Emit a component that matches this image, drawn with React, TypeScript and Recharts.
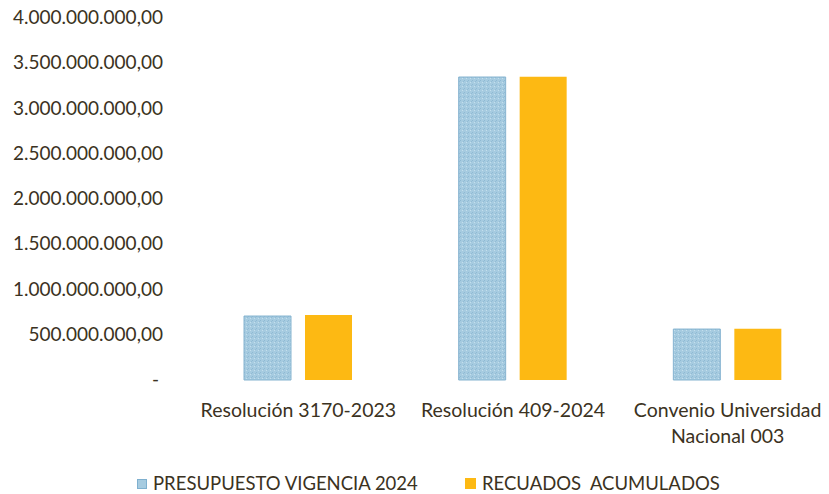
import { BarChart, Bar, XAxis, YAxis, Legend, Text } from 'recharts';

const categories = ['Resolución 3170-2023', 'Resolución 409-2024', 'Convenio Universidad Nacional 003'];
const presupuesto = [707000000, 3348000000, 563000000];
const recaudados = [718000000, 3350000000, 565000000];
const yTicks = [0, 500000000, 1000000000, 1500000000, 2000000000, 2500000000, 3000000000, 3500000000, 4000000000];

const chartData = categories.map((name, i) => ({
  name,
  presupuesto: presupuesto[i],
  recaudados: recaudados[i],
}));

const FONT = 'Lato, "Open Sans", sans-serif';
const BLUE = '#a6cbe0';
const ORANGE = '#fdb913';
const INK = '#3b3222';

const fmt = (v: number) => {
  if (v === 0) return '-';
  const s = Math.round(v).toString().replace(/\B(?=(\d{3})+(?!\d))/g, '.');
  return s + ',00';
};

const YTick = ({ x, y, payload }: any) => (
  <text x={payload.value === 0 ? x - 4 : x} y={y} dy={6} textAnchor="end" fill={INK} fontSize={19} fontFamily={FONT}>
    {fmt(payload.value)}
  </text>
);

const XTick = ({ x, y, payload }: any) => (
  <Text x={x} y={y + 15} width={200} textAnchor="middle" verticalAnchor="start" fill={INK} fontSize={19.5} fontFamily={FONT} lineHeight={26}>
    {payload.value}
  </Text>
);

const LegendContent = () => (
  <div style={{ position: 'relative', height: 44, fontFamily: FONT, fontSize: 18.5, color: INK }}>
    <div style={{ position: 'absolute', left: 137, top: 29, width: 10, height: 10, background: BLUE, border: '1px solid #7fb0cf', boxSizing: 'border-box' }} />
    <div style={{ position: 'absolute', left: 153, top: 22, whiteSpace: 'pre' }}>PRESUPUESTO VIGENCIA 2024</div>
    <div style={{ position: 'absolute', left: 465, top: 28, width: 11, height: 11, background: ORANGE }} />
    <div style={{ position: 'absolute', left: 482, top: 22, whiteSpace: 'pre' }}>RECUADOS  ACUMULADOS</div>
  </div>
);

export default function App() {
  return (
    <div style={{ position: 'absolute', left: 0, top: 0, width: 829, height: 494, background: '#fff', overflow: 'hidden' }}>
      <BarChart
        width={829}
        height={494}
        data={chartData}
        margin={{ top: 18, right: -6, left: 0, bottom: 0 }}
        barGap={14}
        barCategoryGap="26%"
      >
        <defs>
          <pattern id="speckle" width="4" height="4" patternUnits="userSpaceOnUse">
            <rect width="4" height="4" fill={BLUE} />
            <rect x="0" y="0" width="1" height="1" fill="#8fbad4" />
            <rect x="2" y="2" width="1" height="1" fill="#c4dfed" />
            <rect x="3" y="1" width="1" height="1" fill="#93bcd5" />
          </pattern>
        </defs>
        <XAxis dataKey="name" axisLine={false} tickLine={false} tick={<XTick />} height={70} interval={0} />
        <YAxis
          width={191}
          domain={[0, 4000000000]}
          ticks={yTicks}
          axisLine={false}
          tickLine={false}
          tick={<YTick />}
          tickMargin={22}
        />
        <Legend verticalAlign="bottom" height={44} content={<LegendContent />} />
        <Bar dataKey="presupuesto" fill="url(#speckle)" stroke="#86b4d0" strokeWidth={1} barSize={47} isAnimationActive={false} />
        <Bar dataKey="recaudados" fill={ORANGE} barSize={47} isAnimationActive={false} />
      </BarChart>
    </div>
  );
}
